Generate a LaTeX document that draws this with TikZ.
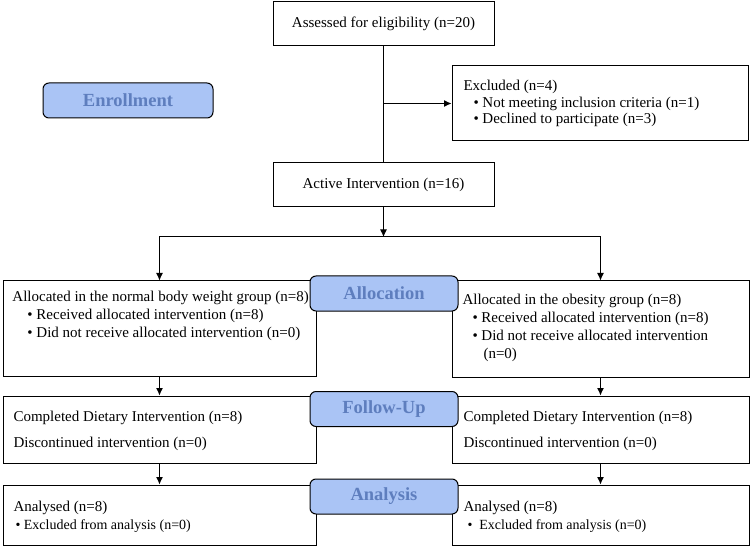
\documentclass[tikz,border=0pt]{standalone}
\usepackage{fontspec}
\setmainfont{Liberation Serif}
\usetikzlibrary{positioning}
\usetikzlibrary{arrows.meta}
\definecolor{pillfill}{RGB}{170,196,245}
\definecolor{pilltext}{RGB}{94,126,190}

\begin{document}
\begin{tikzpicture}[
  x=1pt, y=-1pt,
  line width=1pt,
  box/.style={draw, rectangle, inner sep=0pt, font=\fontsize{15}{18}\selectfont},
  pill/.style={draw, rounded corners=6pt, fill=pillfill, text=pilltext, inner sep=0pt,
    minimum height=35pt, font=\fontsize{18.5}{22}\selectfont\bfseries},
  txt/.style={anchor=north west, align=left, inner sep=0pt, font=\fontsize{15}{18}\selectfont},
  arr/.style={-{Latex[length=7.5pt,width=7pt]}}
]
\useasboundingbox (0,0) rectangle (750,548);

% enrollment
\node[box, minimum width=221pt, minimum height=44pt] (assess) at (383.5,24) {Assessed for eligibility (n=20)};
\node[box, minimum width=296pt, minimum height=75pt] (excl) at (600,103.5) {};
\node[box, minimum width=221pt, minimum height=44pt] (active) at (383.5,185) {Active Intervention (n=16)};

\node[txt, font=\fontsize{15}{16.5}\selectfont] (excltxt) at (463,79.7) {Excluded (n=4)\\
  \hspace*{10pt}\textbullet\ Not meeting inclusion criteria (n=1)\\
  \hspace*{10pt}\textbullet\ Declined to participate (n=3)};

% allocation
\node[box, minimum width=313pt, minimum height=95pt] (allocA) at (159.5,328.5) {};
\node[box, minimum width=297pt, minimum height=96pt] (allocB) at (600.5,329) {};

\node[txt] (allocAtxt) at (12,290.7) {Allocated in the normal body weight group (n=8)\\
  \hspace*{15pt}\textbullet\ Received allocated intervention (n=8)\\
  \hspace*{15pt}\textbullet\ Did not receive allocated intervention (n=0)};
\node[txt] (allocBtxt) at (462,293.7) {Allocated in the obesity group (n=8)\\
  \hspace*{10pt}\textbullet\ Received allocated intervention (n=8)\\
  \hspace*{10pt}\textbullet\ Did not receive allocated intervention\\
  \hspace*{21pt}(n=0)};

% follow-up
\node[box, minimum width=313pt, minimum height=67pt] (followA) at (159.5,429.5) {};
\node[box, minimum width=297pt, minimum height=67pt] (followB) at (600.5,429.5) {};

\node[txt] (followAtxt) at (13,410.7) {Completed Dietary Intervention (n=8)\\[8pt]
  Discontinued intervention (n=0)};
\node[txt] (followBtxt) at (463,410.7) {Completed Dietary Intervention (n=8)\\[8pt]
  Discontinued intervention (n=0)};

% analysis
\node[box, minimum width=313pt, minimum height=60pt] (analA) at (159.5,515) {};
\node[box, minimum width=297pt, minimum height=60pt] (analB) at (600.5,515) {};

\node[txt] (analAtxt) at (13,500.7) {Analysed (n=8)\\
  {\fontsize{14}{18}\selectfont\hspace*{2pt}\textbullet\ Excluded from analysis (n=0)}};
\node[txt] (analBtxt) at (463,500.7) {Analysed (n=8)\\
  {\fontsize{14}{18}\selectfont\hspace*{4pt}\textbullet\ \ Excluded from analysis (n=0)}};

% connectors
\coordinate (split) at (383.5,237);
\draw (assess) -- (active);
\draw[arr] (assess.south |- excl.west) -- (excl.west);
\draw[arr] (active) -- (split);
\draw[arr] (split) -| (allocA.north);
\draw[arr] (split) -| (allocB.north);
\draw[arr] (allocA) -- (followA);
\draw[arr] (allocB) -- (followB);
\draw[arr] (followA) -- (analA);
\draw[arr] (followB) -- (analB);

% stage labels
\node[pill, minimum width=170pt] (enrol) at (128,100.5) {Enrollment};
\node[pill, minimum width=148pt] (allocL) at (384,293.5) {Allocation};
\node[pill, minimum width=148pt] (followL) at (384,409) {Follow-Up};
\node[pill, minimum width=148pt] (analL) at (384,496.5) {Analysis};

\end{tikzpicture}
\end{document}
